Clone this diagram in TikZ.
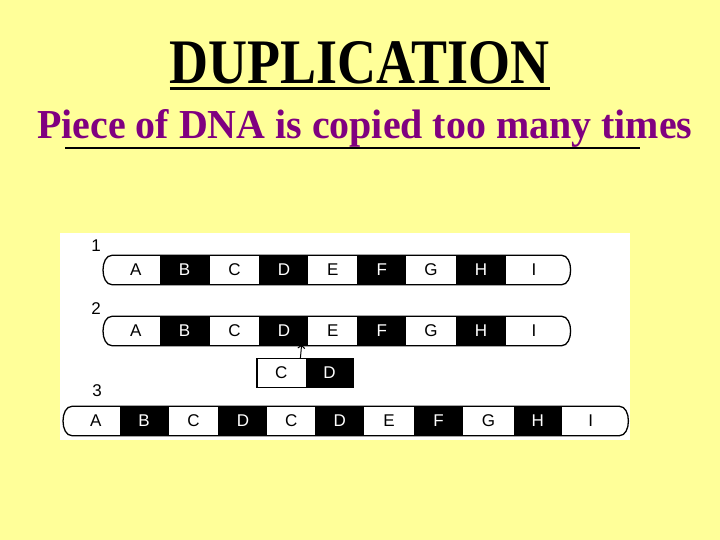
\documentclass[tikz,border=0pt]{standalone}
\usepackage{fontspec}
\setmainfont{Liberation Serif}
\newfontfamily\cellfont{Liberation Sans}
\usetikzlibrary{arrows.meta}
\usetikzlibrary{calc}
\definecolor{bgyellow}{HTML}{FFFF99}
\definecolor{titlepurple}{HTML}{800080}

\begin{document}
\begin{tikzpicture}[x=1pt, y=-1pt, >={Straight Barb[length=3pt, width=7pt]},
    wcell/.style={fill=white, text=black, anchor=west,
      minimum height=29pt, inner sep=0pt, font=\cellfont\fontsize{17}{17}\selectfont},
    bcell/.style={wcell, fill=black, text=white},
    rownum/.style={inner sep=0pt, font=\cellfont\fontsize{17}{17}\selectfont},
    outline/.style={line width=1.3pt}]
    % Фон и белая панель
    \fill[bgyellow] (0,0) rectangle (720,540);
    \useasboundingbox (0,0) rectangle (720,540);
    \fill[white] (60,233) rectangle (630,440);

    % Заголовок и подзаголовок
    \node[anchor=base, inner sep=0pt] (title) at (360,84)
        {\resizebox{380pt}{42pt}{\bfseries DUPLICATION}};
    \draw[line width=3pt] (title.south west) ++(0,4) coordinate (tl) -- (tl -| title.south east);
    \node[anchor=base west, inner sep=0pt, text=titlepurple] (sub) at (37,139)
        {\resizebox{655pt}{29pt}{\bfseries Piece of DNA is copied too many times}};
    \draw[line width=2pt] (65,148) coordinate (ul) -- (640,148) coordinate (ur);

    % Хромосома 1
    \node[rownum] (n1) at (96,246) {1};
    \node[wcell, minimum width=47pt] (A1) at (112,270) {A};
    \node[bcell, minimum width=50pt] (B1) at (A1.east) {B};
    \node[wcell, minimum width=49pt] (C1) at (B1.east) {C};
    \node[bcell, minimum width=49pt] (D1) at (C1.east) {D};
    \node[wcell, minimum width=48pt] (E1) at (D1.east) {E};
    \node[bcell, minimum width=49pt] (F1) at (E1.east) {F};
    \node[wcell, minimum width=49pt] (G1) at (F1.east) {G};
    \node[bcell, minimum width=50pt] (H1) at (G1.east) {H};
    \node[wcell, minimum width=55pt] (I1) at (H1.east) {I};
    \draw[outline] (A1.north west) -- (I1.north east)
        .. controls +(12,0) and +(12,0) .. (I1.south east) -- (A1.south west)
        .. controls +(-12,0) and +(-12,0) .. cycle;

    % Хромосома 2
    \node[rownum] (n2) at (96,309) {2};
    \node[wcell, minimum width=47pt] (A2) at (112,331) {A};
    \node[bcell, minimum width=50pt] (B2) at (A2.east) {B};
    \node[wcell, minimum width=49pt] (C2) at (B2.east) {C};
    \node[bcell, minimum width=49pt] (D2) at (C2.east) {D};
    \node[wcell, minimum width=48pt] (E2) at (D2.east) {E};
    \node[bcell, minimum width=49pt] (F2) at (E2.east) {F};
    \node[wcell, minimum width=49pt] (G2) at (F2.east) {G};
    \node[bcell, minimum width=50pt] (H2) at (G2.east) {H};
    \node[wcell, minimum width=55pt] (I2) at (H2.east) {I};
    \draw[outline] (A2.north west) -- (I2.north east)
        .. controls +(12,0) and +(12,0) .. (I2.south east) -- (A2.south west)
        .. controls +(-12,0) and +(-12,0) .. cycle;

    % Вставляемый кусок C D и стрелка
    \node[wcell, minimum width=48pt] (insC) at (257,373) {C};
    \node[bcell, minimum width=48pt] (insD) at (insC.east) {D};
    \draw[outline] (insC.north west) rectangle (insD.south east);
    \draw[->, line width=1pt] ($(insC.north east)+(-5,0)$) -- ($(D2.south east)+(-7,-1)$);

    % Хромосома 3 (после дупликации)
    \node[rownum] (n3) at (97,391) {3};
    \node[wcell, minimum width=47pt] (A3) at (72,421) {A};
    \node[bcell, minimum width=49pt] (B3) at (A3.east) {B};
    \node[wcell, minimum width=49pt] (C3) at (B3.east) {C};
    \node[bcell, minimum width=49pt] (D3) at (C3.east) {D};
    \node[wcell, minimum width=47pt] (C3b) at (D3.east) {C};
    \node[bcell, minimum width=49pt] (D3b) at (C3b.east) {D};
    \node[wcell, minimum width=49pt] (E3) at (D3b.east) {E};
    \node[bcell, minimum width=49pt] (F3) at (E3.east) {F};
    \node[wcell, minimum width=50pt] (G3) at (F3.east) {G};
    \node[bcell, minimum width=48pt] (H3) at (G3.east) {H};
    \node[wcell, minimum width=57pt] (I3) at (H3.east) {I};
    \draw[outline] (A3.north west) -- (I3.north east)
        .. controls +(12,0) and +(12,0) .. (I3.south east) -- (A3.south west)
        .. controls +(-12,0) and +(-12,0) .. cycle;
\end{tikzpicture}
\end{document}
